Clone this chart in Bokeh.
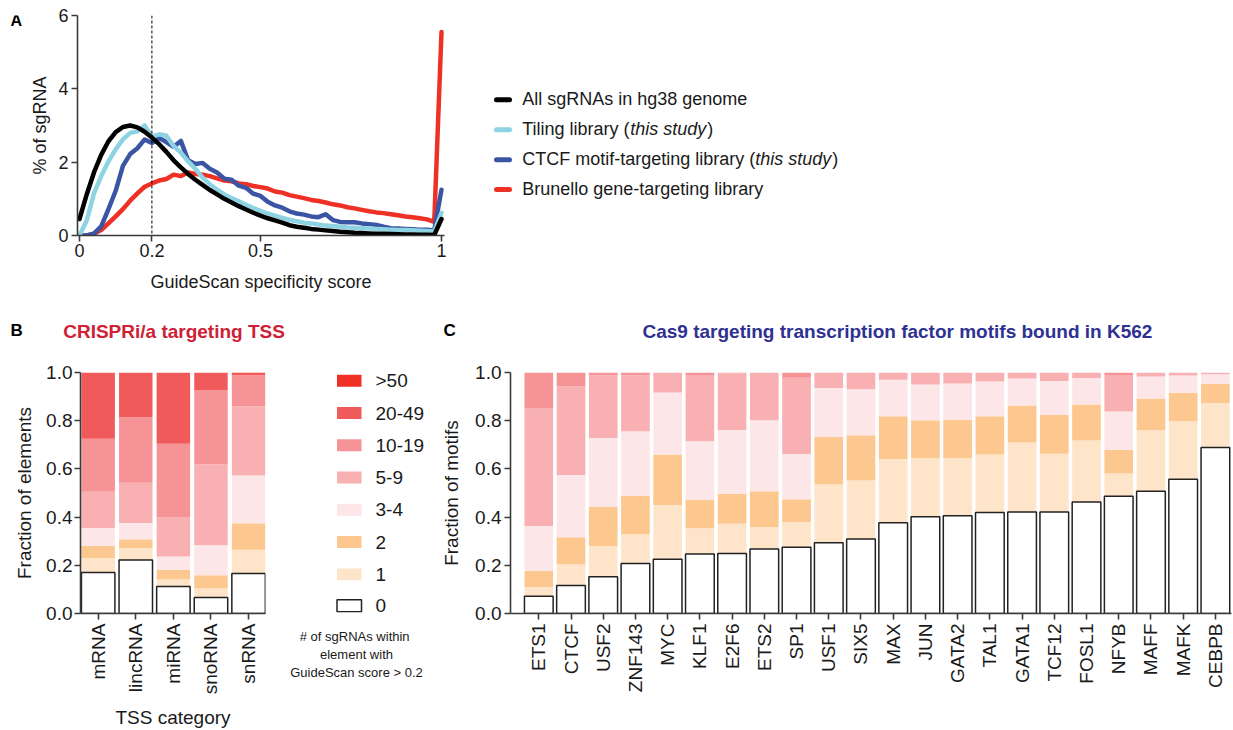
from math import pi
import numpy as np
from bokeh.plotting import figure
from bokeh.layouts import row, column
from bokeh.models import Range1d, FixedTicker, NumeralTickFormatter, Span
from bokeh.core.properties import value
from bokeh.embed import file_html
from bokeh.resources import INLINE

FONT = "Liberation Sans"
INK = "#1a1a1a"
AXIS = "#3a3a3a"

# ---------------- Panel A: GuideScan specificity score distributions ----------------
score = [0.00, 0.02, 0.04, 0.06, 0.08, 0.10, 0.12, 0.14, 0.16, 0.18,
         0.20, 0.22, 0.24, 0.26, 0.28, 0.30, 0.32, 0.34, 0.36, 0.38,
         0.40, 0.42, 0.44, 0.46, 0.48, 0.50, 0.52, 0.54, 0.56, 0.58,
         0.60, 0.62, 0.64, 0.66, 0.68, 0.70, 0.72, 0.74, 0.76, 0.78,
         0.80, 0.82, 0.84, 0.86, 0.88, 0.90, 0.92, 0.94, 0.96, 0.98, 1.00]

all_hg38 = [0.45, 1.12, 1.72, 2.20, 2.57, 2.82, 2.96, 3.00, 2.95, 2.83,
            2.67, 2.49, 2.28, 2.05, 1.86, 1.68, 1.52, 1.38, 1.24, 1.12,
            1.00, 0.90, 0.80, 0.71, 0.62, 0.54, 0.47, 0.41, 0.35, 0.28,
            0.24, 0.21, 0.18, 0.16, 0.14, 0.12, 0.10, 0.09, 0.075, 0.065,
            0.057, 0.05, 0.045, 0.04, 0.035, 0.03, 0.025, 0.02, 0.018, 0.015, 0.45]

tiling = [0.00, 0.41, 1.15, 1.62, 2.02, 2.35, 2.62, 2.80, 2.84, 3.00,
          2.70, 2.76, 2.72, 2.44, 2.26, 2.02, 1.82, 1.58, 1.40, 1.25,
          1.12, 1.02, 0.93, 0.84, 0.75, 0.67, 0.60, 0.54, 0.48, 0.43,
          0.39, 0.35, 0.33, 0.30, 0.27, 0.26, 0.24, 0.22, 0.21, 0.20,
          0.19, 0.18, 0.17, 0.16, 0.15, 0.15, 0.14, 0.13, 0.12, 0.11, 0.62]

ctcf = [0.00, 0.00, 0.05, 0.25, 0.72, 1.22, 1.90, 2.22, 2.38, 2.62,
        2.52, 2.66, 2.55, 2.42, 2.58, 2.05, 1.95, 1.98, 1.82, 1.72,
        1.55, 1.52, 1.36, 1.30, 1.14, 1.08, 0.92, 0.82, 0.76, 0.66,
        0.60, 0.57, 0.52, 0.50, 0.58, 0.42, 0.37, 0.36, 0.36, 0.33,
        0.31, 0.29, 0.24, 0.20, 0.19, 0.18, 0.17, 0.16, 0.16, 0.14, 1.25]

brunello = [0.00, 0.00, 0.05, 0.15, 0.33, 0.52, 0.72, 0.95, 1.15, 1.33,
            1.42, 1.50, 1.54, 1.66, 1.62, 1.72, 1.68, 1.66, 1.62, 1.56,
            1.50, 1.48, 1.42, 1.40, 1.35, 1.32, 1.28, 1.20, 1.17, 1.10,
            1.06, 1.02, 0.97, 0.94, 0.90, 0.85, 0.82, 0.77, 0.74, 0.70,
            0.66, 0.63, 0.61, 0.58, 0.55, 0.52, 0.50, 0.47, 0.44, 0.37, 5.55]

score_ticks = [0, 0.2, 0.5, 1]
score_tick_labels = ["0", "0.2", "0.5", "1"]
pct_ticks = [0, 2, 4, 6]
score_cutoff = 0.2

# legend rows: (regular text, italic text, regular text)
legend_a = [("All sgRNAs in hg38 genome", "", ""),
            ("Tiling library (", "this study", ")"),
            ("CTCF motif-targeting library (", "this study", ")"),
            ("Brunello gene-targeting library", "", "")]
colors_a = ["#000000", "#8dd3e2", "#3b55a5", "#ee3124"]

# ---------------- Panels B and C: sgRNA count bins ----------------
bin_labels = ["0", "1", "2", "3-4", "5-9", "10-19", "20-49", ">50"]
bin_colors = ["#ffffff", "#fee5ca", "#fdc890", "#fde6e8", "#f8b0b2", "#f69396", "#f15a5a", "#ee3124"]

tss_categories = ["mRNA", "lincRNA", "miRNA", "snoRNA", "snRNA"]
tss_0 = [0.170, 0.222, 0.112, 0.066, 0.166]
tss_1 = [0.060, 0.049, 0.029, 0.038, 0.099]
tss_2 = [0.050, 0.037, 0.039, 0.055, 0.109]
tss_3_4 = [0.075, 0.068, 0.056, 0.124, 0.199]
tss_5_9 = [0.150, 0.167, 0.162, 0.336, 0.286]
tss_10_19 = [0.220, 0.271, 0.306, 0.306, 0.130]
tss_20_49 = [0.275, 0.186, 0.296, 0.075, 0.006]
tss_50 = [0.000, 0.000, 0.000, 0.000, 0.005]

tf_names = ["ETS1", "CTCF", "USF2", "ZNF143", "MYC", "KLF1", "E2F6", "ETS2", "SP1", "USF1", "SIX5",
            "MAX", "JUN", "GATA2", "TAL1", "GATA1", "TCF12", "FOSL1", "NFYB", "MAFF", "MAFK", "CEBPB"]
tf_0 = [0.072, 0.116, 0.152, 0.207, 0.225, 0.247, 0.249, 0.268, 0.275, 0.294, 0.309,
        0.377, 0.401, 0.406, 0.419, 0.421, 0.421, 0.463, 0.486, 0.507, 0.557, 0.689]
tf_1 = [0.038, 0.087, 0.127, 0.122, 0.225, 0.107, 0.123, 0.091, 0.105, 0.241, 0.243,
        0.263, 0.243, 0.239, 0.241, 0.289, 0.242, 0.255, 0.095, 0.253, 0.241, 0.184]
tf_2 = [0.067, 0.113, 0.163, 0.159, 0.210, 0.118, 0.124, 0.148, 0.094, 0.197, 0.188,
        0.178, 0.158, 0.159, 0.158, 0.153, 0.162, 0.149, 0.097, 0.132, 0.118, 0.079]
tf_3_4 = [0.186, 0.259, 0.286, 0.268, 0.257, 0.243, 0.265, 0.295, 0.188, 0.204, 0.191,
          0.152, 0.148, 0.150, 0.145, 0.112, 0.140, 0.110, 0.160, 0.091, 0.072, 0.041]
tf_5_9 = [0.488, 0.367, 0.260, 0.233, 0.083, 0.275, 0.236, 0.198, 0.316, 0.064, 0.069,
          0.030, 0.050, 0.046, 0.037, 0.025, 0.035, 0.023, 0.152, 0.017, 0.012, 0.007]
tf_10_19 = [0.149, 0.058, 0.012, 0.011, 0.000, 0.010, 0.003, 0.000, 0.022, 0.000, 0.000,
            0.000, 0.000, 0.000, 0.000, 0.000, 0.000, 0.000, 0.010, 0.000, 0.000, 0.000]
tf_20_49 = [0.0] * 22
tf_50 = [0.0] * 22

fraction_ticks = [0.0, 0.2, 0.4, 0.6, 0.8, 1.0]

title_b = "CRISPRi/a targeting TSS"
title_c = "Cas9 targeting transcription factor motifs bound in K562"
caption_b = ["#  of sgRNAs within", "element with", "GuideScan score > 0.2"]


def style_axes(p, size):
    for ax in p.axis:
        ax.axis_line_color = AXIS
        ax.axis_line_width = 1.6
        ax.major_tick_line_color = AXIS
        ax.major_tick_line_width = 1.6
        ax.major_tick_in = 0
        ax.major_tick_out = 6
        ax.minor_tick_line_color = None
        ax.major_label_text_font = FONT
        ax.major_label_text_font_size = size
        ax.major_label_text_color = INK
        ax.axis_label_text_font = FONT
        ax.axis_label_text_font_size = size
        ax.axis_label_text_font_style = "normal"
        ax.axis_label_text_color = INK
    p.grid.visible = False
    p.outline_line_color = None


def canvas(x0, x1, y_top, y_bottom, height, b_left=0, b_right=0, b_top=0, b_bottom=0, x_axis=None):
    """Axis-free panel whose frame is mapped onto page pixel coordinates."""
    p = figure(width=int(x1 - x0), height=height,
               x_range=Range1d(x0 + b_left, x1 - b_right), y_range=Range1d(y_bottom, y_top),
               min_border_left=b_left, min_border_right=b_right,
               min_border_top=b_top, min_border_bottom=b_bottom,
               toolbar_location=None, output_backend="svg",
               x_axis_location=x_axis, y_axis_location=None)
    p.grid.visible = False
    p.outline_line_color = None
    return p


def write(p, x, y, text, size, style="normal", color=INK, align="left"):
    # y is the vertical centre of the capital letters on the page
    p.text(x=[x], y=[y], text=[text], text_font=value(FONT), text_font_size=size,
           text_font_style=style, text_color=color, text_align=align,
           text_baseline="alphabetic")


def stacked(p, xs, bins, width):
    bottom = np.zeros(len(xs))
    zero_layer = None
    for k, vals in enumerate(bins):
        top = bottom + np.asarray(vals, dtype=float)
        if k == 0:
            zero_layer = (bottom.copy(), top.copy())
        else:
            p.vbar(x=xs, bottom=bottom, top=top, width=width,
                   fill_color=bin_colors[k], line_color=None)
        bottom = top
    p.vbar(x=xs, bottom=zero_layer[0], top=zero_layer[1], width=width,
           fill_color=bin_colors[0], line_color="#222222", line_width=1.5)


# ---------------- top row: panel A ----------------
letter_a = canvas(0, 25, 15, 235, 305, b_top=15, b_bottom=70)
write(letter_a, 10, 19.5, "A", "16px", "bold", "#000000")

pA = figure(frame_width=367, frame_height=220,
            x_range=Range1d(-0.0055, 1.0083), y_range=Range1d(0, 6),
            min_border_left=52, min_border_right=26, min_border_top=15, min_border_bottom=70,
            toolbar_location=None, output_backend="svg")
style_axes(pA, "18px")
pA.xaxis.ticker = FixedTicker(ticks=score_ticks)
pA.xaxis.major_label_overrides = dict(zip(score_ticks, score_tick_labels))
pA.yaxis.ticker = FixedTicker(ticks=pct_ticks)
pA.xaxis.axis_label = "GuideScan specificity score"
pA.yaxis.axis_label = "% of sgRNA"
pA.xaxis.major_label_standoff = 2
pA.yaxis.major_label_standoff = 3
pA.xaxis.axis_label_standoff = 12
pA.yaxis.axis_label_standoff = 5
pA.add_layout(Span(location=score_cutoff, dimension="height", line_color="#000000",
                   line_width=1, line_dash="3 2"))
for ys, c in [(brunello, colors_a[3]), (ctcf, colors_a[2]), (tiling, colors_a[1]), (all_hg38, colors_a[0])]:
    pA.line(score, ys, line_color=c, line_width=4.5, line_join="round", line_cap="round")

leg_a = canvas(470, 1233, 15, 235, 305, b_top=15, b_bottom=70)
row_mid = [99.3, 129.3, 159.3, 189.0]
row_text = [98.5, 128.5, 158.3, 188.0]
first_width = {1: 108.0, 2: 233.0}
for i, ((t0, t1, t2), c) in enumerate(zip(legend_a, colors_a)):
    leg_a.segment(x0=[496], y0=[row_mid[i]], x1=[509], y1=[row_mid[i]], line_color=c,
                  line_width=5, line_cap="round")
    write(leg_a, 521.7, row_text[i], t0, "18px")
    if t1:
        xi = 521.7 + first_width[i]
        write(leg_a, xi, row_text[i], t1, "18px", "italic")
        write(leg_a, xi + 77.0, row_text[i], t2, "18px")

top = row(letter_a, pA, leg_a)

# ---------------- panel headers ----------------
header = canvas(0, 1233, 305, 352, 47)
write(header, 10, 330, "B", "17px", "bold", "#000000")
write(header, 62.7, 330.7, title_b, "19px", "bold", "#cf2035")
write(header, 443, 330, "C", "17px", "bold", "#000000")
write(header, 642, 330.7, title_c, "19px", "bold", "#2e3192")

# ---------------- bottom row: panels B and C ----------------
TOP_B, FH_B, BOT_B = 20, 241, 117
F_TOP, F_BOT = 352 + TOP_B, 352 + TOP_B + FH_B
H_B = TOP_B + FH_B + BOT_B

tss_x = list(range(len(tss_categories)))
pB = figure(frame_width=185, frame_height=FH_B,
            x_range=Range1d(-0.47, 4.45), y_range=Range1d(0, 1),
            min_border_left=80, min_border_right=10, min_border_top=TOP_B, min_border_bottom=BOT_B,
            toolbar_location=None, output_backend="svg")
style_axes(pB, "19px")
stacked(pB, tss_x, [tss_0, tss_1, tss_2, tss_3_4, tss_5_9, tss_10_19, tss_20_49, tss_50], 0.89)
pB.xaxis.ticker = FixedTicker(ticks=tss_x)
pB.xaxis.major_label_overrides = dict(zip(tss_x, tss_categories))
pB.xaxis.major_label_orientation = pi / 2
pB.xaxis.major_label_standoff = 4
pB.xaxis.axis_label = "TSS category"
pB.xaxis.axis_label_standoff = 10
pB.yaxis.ticker = FixedTicker(ticks=fraction_ticks)
pB.yaxis.formatter = NumeralTickFormatter(format="0.0")
pB.yaxis.major_label_standoff = 2
pB.yaxis.axis_label = "Fraction of elements"
pB.yaxis.axis_label_standoff = 8

# legend of sgRNA-count bins, with its caption drawn as the axis title
leg_b = canvas(275, 426, F_TOP, F_BOT, H_B, b_left=11, b_top=TOP_B, b_bottom=BOT_B, x_axis="below")
sw_mid = [380.3, 412.7, 445.1, 477.5, 509.9, 542.3, 574.7, 606.3]
for j, lab in enumerate(reversed(bin_labels)):
    k = len(bin_labels) - 1 - j
    is_zero = k == 0
    leg_b.quad(left=[336.5], right=[361.0], top=[sw_mid[j] - 6.0], bottom=[sw_mid[j] + 6.0],
               fill_color=bin_colors[k], line_color="#222222" if is_zero else None,
               line_width=1.5)
    write(leg_b, 375, sw_mid[j], lab, "19px")
cap = leg_b.xaxis[0]
cap.ticker = FixedTicker(ticks=[])
cap.axis_line_color = None
cap.major_tick_line_color = None
cap.minor_tick_line_color = None
cap.major_tick_out = 0
cap.major_label_standoff = 0
cap.axis_label = "\n".join(caption_b)
cap.axis_label_text_font = FONT
cap.axis_label_text_font_size = "13px"
cap.axis_label_text_font_style = "normal"
cap.axis_label_text_color = INK
cap.axis_label_standoff = 16

tf_x = list(range(len(tf_names)))
pC = figure(frame_width=721, frame_height=FH_B,
            x_range=Range1d(-0.878, 21.5), y_range=Range1d(0, 1),
            min_border_left=84, min_border_right=2, min_border_top=TOP_B, min_border_bottom=BOT_B,
            toolbar_location=None, output_backend="svg")
style_axes(pC, "19px")
stacked(pC, tf_x, [tf_0, tf_1, tf_2, tf_3_4, tf_5_9, tf_10_19, tf_20_49, tf_50], 0.89)
pC.xaxis.ticker = FixedTicker(ticks=tf_x)
pC.xaxis.major_label_overrides = dict(zip(tf_x, tf_names))
pC.xaxis.major_label_orientation = pi / 2
pC.xaxis.major_label_standoff = 4
pC.yaxis.ticker = FixedTicker(ticks=fraction_ticks)
pC.yaxis.formatter = NumeralTickFormatter(format="0.0")
pC.yaxis.major_label_standoff = 3
pC.yaxis.axis_label = "Fraction of motifs"
pC.yaxis.axis_label_standoff = 10

bottom = row(pB, leg_b, pC)
layout = column(top, header, bottom)

open("out.html", "w").write(file_html(layout, INLINE))
